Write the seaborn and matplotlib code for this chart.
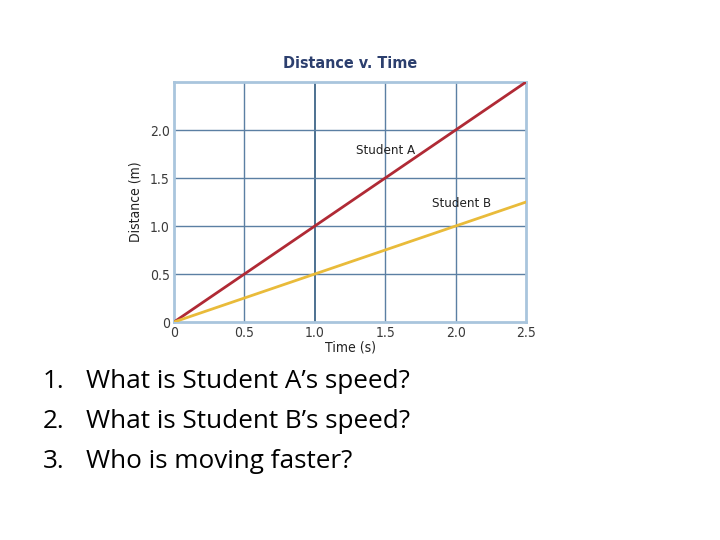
import pandas as pd
import matplotlib
matplotlib.use("Agg")
import matplotlib.pyplot as plt
import seaborn as sns

# dữ liệu
time_s = [0.0, 2.5]
dist_a = [0.0, 2.5]
dist_b = [0.0, 1.25]
x_ticks = [0, 0.5, 1.0, 1.5, 2.0, 2.5]
x_tick_labels = ["0", "0.5", "1.0", "1.5", "2.0", "2.5"]
y_ticks = [0, 0.5, 1.0, 1.5, 2.0]
y_tick_labels = ["0", "0.5", "1.0", "1.5", "2.0"]
questions = ["What is Student A\u2019s speed?",
             "What is Student B\u2019s speed?",
             "Who is moving faster?"]

df = pd.DataFrame({
    "Time": time_s * 2,
    "Distance": dist_a + dist_b,
    "Student": ["Student A"] * len(time_s) + ["Student B"] * len(time_s),
})

sns.set_theme(style="white")
plt.rcParams["font.family"] = ["DejaVu Sans"]
plt.rcParams["font.stretch"] = "condensed"

fig = plt.figure(figsize=(7.2, 5.4), dpi=100)
ax = fig.add_axes([0.2417, 0.4037, 0.4889, 0.4444])

grid_col = "#5b7fa3"
for x in x_ticks[1:-1]:
    ax.axvline(x, color="#3f6688" if x == 1.0 else grid_col, lw=1.0 if x != 1.0 else 1.3, zorder=1)
for y in y_ticks[1:]:
    ax.axhline(y, color=grid_col, lw=1.0, zorder=1)

sns.lineplot(data=df, x="Time", y="Distance", hue="Student",
             palette={"Student A": "#b02a35", "Student B": "#e9bb3a"},
             linewidth=2.0, legend=False, ax=ax, zorder=3)

ax.set_xlim(0, 2.5)
ax.set_ylim(0, 2.5)
ax.set_xticks(x_ticks)
ax.set_xticklabels(x_tick_labels)
ax.set_yticks(y_ticks)
ax.set_yticklabels(y_tick_labels)
ax.tick_params(length=0, labelsize=10, colors="#3a3a3a", pad=3)
for s in ax.spines.values():
    s.set_color("#a9c5dd")
    s.set_linewidth(2.0)

ax.set_xlabel("Time (s)", fontsize=10, color="#222222", labelpad=0)
ax.set_ylabel("Distance (m)", fontsize=10, color="#222222", labelpad=5)
ax.set_title("Distance v. Time", fontsize=11.5, fontweight="bold", color="#2c3f6e", pad=10)

ax.text(1.5, 1.79, "Student A", fontsize=9.5, ha="center", va="center", color="#222222", zorder=4)
ax.text(2.04, 1.23, "Student B", fontsize=9.5, ha="center", va="center", color="#222222", zorder=4)

for i, q in enumerate(questions):
    y = 1 - (382 + 40 * i) / 540
    fig.text(43 / 720, y, f"{i + 1}.", fontsize=18.8, family=["Open Sans", "DejaVu Sans"],
             stretch="normal", va="center", color="black")
    fig.text(86 / 720, y, q, fontsize=18.8, family=["Open Sans", "DejaVu Sans"],
             stretch="normal", va="center", color="black")

fig.savefig("out.png", dpi=100, facecolor="white")
plt.close()
